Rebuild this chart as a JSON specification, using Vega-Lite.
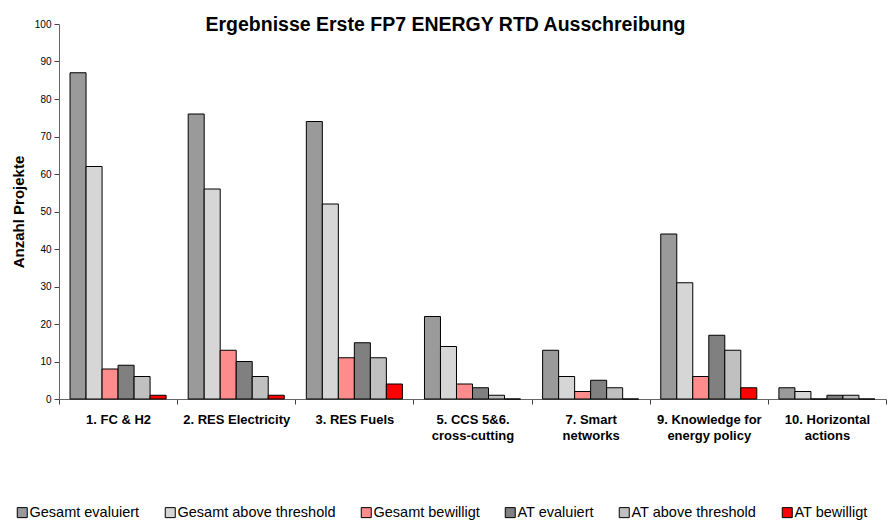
{
  "$schema": "https://vega.github.io/schema/vega-lite/v6.json",
  "width": 827,
  "height": 375,
  "autosize": {"type": "none"},
  "padding": {"left": 59, "top": 24, "right": 3, "bottom": 121},
  "background": "white",
  "title": {
    "text": "Ergebnisse Erste FP7 ENERGY RTD Ausschreibung",
    "font": "Liberation Sans",
    "fontSize": 19.5,
    "fontWeight": "bold",
    "color": "black",
    "anchor": "middle",
    "baseline": "alphabetic",
    "offset": -31,
    "dx": -27
  },
  "config": {
    "view": {"stroke": null},
    "font": "Liberation Sans"
  },
  "data": {
    "values": [
      {"cat": "1. FC & H2", "series": "Gesamt evaluiert", "value": 87},
      {"cat": "1. FC & H2", "series": "Gesamt above threshold", "value": 62},
      {"cat": "1. FC & H2", "series": "Gesamt bewilligt", "value": 8},
      {"cat": "1. FC & H2", "series": "AT evaluiert", "value": 9},
      {"cat": "1. FC & H2", "series": "AT above threshold", "value": 6},
      {"cat": "1. FC & H2", "series": "AT bewilligt", "value": 1},
      {"cat": "2. RES Electricity", "series": "Gesamt evaluiert", "value": 76},
      {"cat": "2. RES Electricity", "series": "Gesamt above threshold", "value": 56},
      {"cat": "2. RES Electricity", "series": "Gesamt bewilligt", "value": 13},
      {"cat": "2. RES Electricity", "series": "AT evaluiert", "value": 10},
      {"cat": "2. RES Electricity", "series": "AT above threshold", "value": 6},
      {"cat": "2. RES Electricity", "series": "AT bewilligt", "value": 1},
      {"cat": "3. RES Fuels", "series": "Gesamt evaluiert", "value": 74},
      {"cat": "3. RES Fuels", "series": "Gesamt above threshold", "value": 52},
      {"cat": "3. RES Fuels", "series": "Gesamt bewilligt", "value": 11},
      {"cat": "3. RES Fuels", "series": "AT evaluiert", "value": 15},
      {"cat": "3. RES Fuels", "series": "AT above threshold", "value": 11},
      {"cat": "3. RES Fuels", "series": "AT bewilligt", "value": 4},
      {"cat": "5. CCS 5&6.|cross-cutting", "series": "Gesamt evaluiert", "value": 22},
      {"cat": "5. CCS 5&6.|cross-cutting", "series": "Gesamt above threshold", "value": 14},
      {"cat": "5. CCS 5&6.|cross-cutting", "series": "Gesamt bewilligt", "value": 4},
      {"cat": "5. CCS 5&6.|cross-cutting", "series": "AT evaluiert", "value": 3},
      {"cat": "5. CCS 5&6.|cross-cutting", "series": "AT above threshold", "value": 1},
      {"cat": "5. CCS 5&6.|cross-cutting", "series": "AT bewilligt", "value": 0},
      {"cat": "7. Smart|networks", "series": "Gesamt evaluiert", "value": 13},
      {"cat": "7. Smart|networks", "series": "Gesamt above threshold", "value": 6},
      {"cat": "7. Smart|networks", "series": "Gesamt bewilligt", "value": 2},
      {"cat": "7. Smart|networks", "series": "AT evaluiert", "value": 5},
      {"cat": "7. Smart|networks", "series": "AT above threshold", "value": 3},
      {"cat": "7. Smart|networks", "series": "AT bewilligt", "value": 0},
      {"cat": "9. Knowledge for|energy policy", "series": "Gesamt evaluiert", "value": 44},
      {"cat": "9. Knowledge for|energy policy", "series": "Gesamt above threshold", "value": 31},
      {"cat": "9. Knowledge for|energy policy", "series": "Gesamt bewilligt", "value": 6},
      {"cat": "9. Knowledge for|energy policy", "series": "AT evaluiert", "value": 17},
      {"cat": "9. Knowledge for|energy policy", "series": "AT above threshold", "value": 13},
      {"cat": "9. Knowledge for|energy policy", "series": "AT bewilligt", "value": 3},
      {"cat": "10. Horizontal|actions", "series": "Gesamt evaluiert", "value": 3},
      {"cat": "10. Horizontal|actions", "series": "Gesamt above threshold", "value": 2},
      {"cat": "10. Horizontal|actions", "series": "Gesamt bewilligt", "value": 0},
      {"cat": "10. Horizontal|actions", "series": "AT evaluiert", "value": 1},
      {"cat": "10. Horizontal|actions", "series": "AT above threshold", "value": 1},
      {"cat": "10. Horizontal|actions", "series": "AT bewilligt", "value": 0}
    ]
  },
  "mark": {"type": "bar", "stroke": "black", "strokeWidth": 1},
  "encoding": {
    "x": {
      "field": "cat",
      "type": "nominal",
      "sort": null,
      "scale": {"paddingInner": 0, "paddingOuter": 0},
      "axis": {
        "title": null,
        "labelAngle": 0,
        "labelExpr": "split(datum.label, '|')",
        "labelFont": "Liberation Sans",
        "labelFontSize": 13,
        "labelFontWeight": "bold",
        "labelColor": "black",
        "labelLineHeight": 16,
        "labelPadding": 9,
        "tickBand": "extent",
        "tickSize": 5,
        "tickColor": "#444",
        "domainColor": "#666",
        "grid": false
      }
    },
    "xOffset": {
      "field": "series",
      "type": "nominal",
      "sort": ["Gesamt evaluiert", "Gesamt above threshold", "Gesamt bewilligt", "AT evaluiert", "AT above threshold", "AT bewilligt"],
      "scale": {"paddingInner": 0, "paddingOuter": 0.69}
    },
    "y": {
      "field": "value",
      "type": "quantitative",
      "scale": {"domain": [0, 100], "nice": false},
      "axis": {
        "title": "Anzahl Projekte",
        "titleFont": "Liberation Sans",
        "titleFontSize": 15,
        "titleFontWeight": "bold",
        "titleColor": "black",
        "titlePadding": 8,
        "values": [0, 10, 20, 30, 40, 50, 60, 70, 80, 90, 100],
        "labelFontSize": 10,
        "labelColor": "black",
        "labelPadding": 3,
        "tickSize": 5,
        "tickColor": "#444",
        "domainColor": "#666",
        "grid": false
      }
    },
    "fill": {
      "field": "series",
      "type": "nominal",
      "sort": ["Gesamt evaluiert", "Gesamt above threshold", "Gesamt bewilligt", "AT evaluiert", "AT above threshold", "AT bewilligt"],
      "scale": {
        "domain": ["Gesamt evaluiert", "Gesamt above threshold", "Gesamt bewilligt", "AT evaluiert", "AT above threshold", "AT bewilligt"],
        "range": ["#9a9a9a", "#d6d6d6", "#ff8c8c", "#808080", "#c0c0c0", "#ff0000"]
      },
      "legend": {
        "title": null,
        "orient": "none",
        "legendX": -44,
        "legendY": 481,
        "direction": "horizontal",
        "columns": 6,
        "columnPadding": 23,
        "symbolType": "square",
        "symbolSize": 100,
        "symbolStrokeColor": "black",
        "symbolStrokeWidth": 1,
        "symbolOpacity": 1,
        "labelFont": "Liberation Sans",
        "labelFontSize": 14.5,
        "labelColor": "black",
        "labelOffset": 0,
        "labelLimit": 300
      }
    }
  }
}
